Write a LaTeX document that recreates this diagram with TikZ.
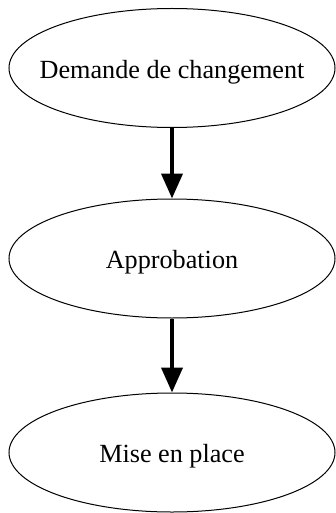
\documentclass[tikz,border=0pt]{standalone}
\usepackage{fontspec}
\setmainfont{Liberation Serif}
\usetikzlibrary{shapes.geometric,arrows.meta}
\newcommand{\nobox}[1]{\makebox[0pt]{\smash{\raisebox{-10.2pt}{#1}}}}
\begin{document}
\begin{tikzpicture}[x=1pt,y=-1pt,
  state/.style={ellipse,draw=black,line width=1pt,minimum width=326pt,minimum height=119pt,inner sep=0pt,font=\fontsize{26.2}{30}\selectfont},
  flow/.style={line width=4pt,-{Triangle[length=25pt,width=21pt]}}]
\useasboundingbox (0,0) rectangle (335,513);
\node[state] (a) at (172,68) {\nobox{Demande de changement}};
\node[state] (b) at (172,258.5) {\nobox{Approbation}};
\node[state] (c) at (172,452.5) {\nobox{Mise en place}};
\draw[flow] (a) -- (b);
\draw[flow] (b) -- (c);
\end{tikzpicture}
\end{document}
